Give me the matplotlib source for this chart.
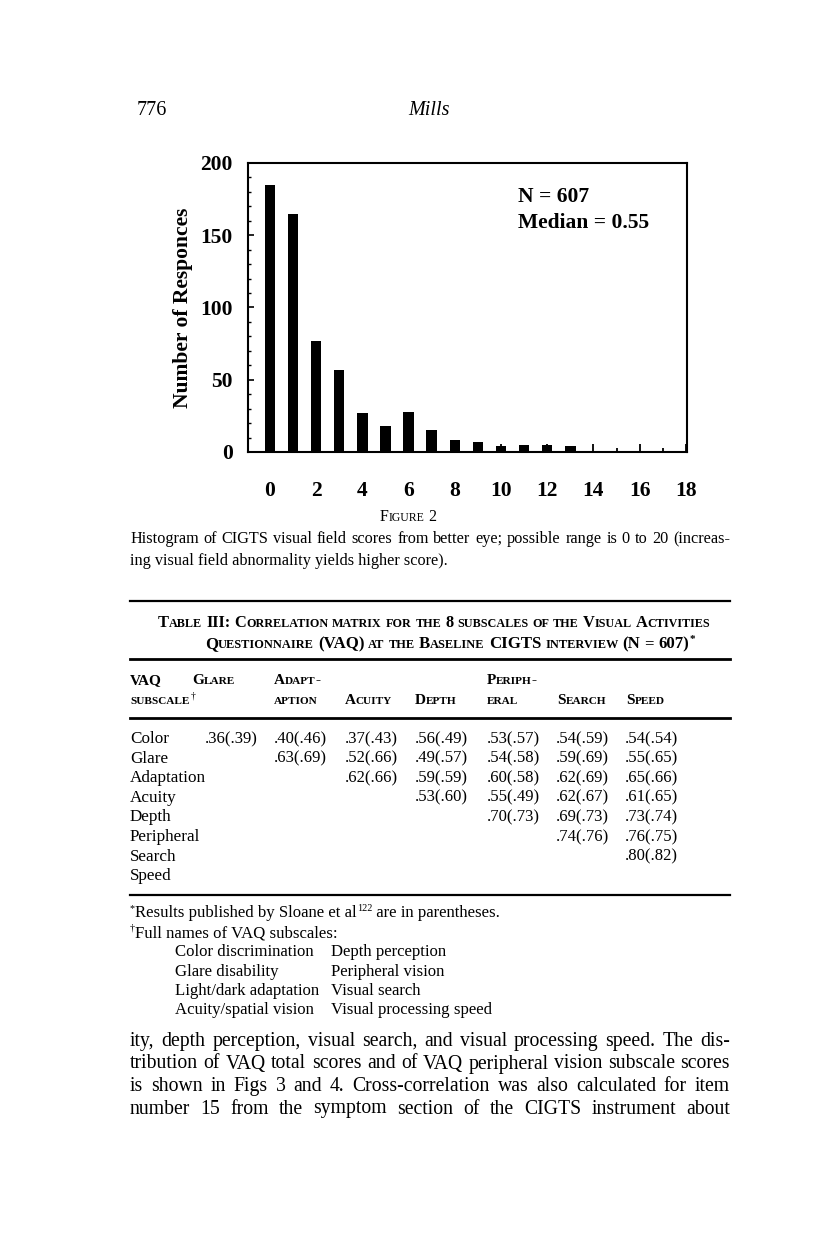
import matplotlib
matplotlib.use('Agg')
import matplotlib.pyplot as plt
from matplotlib.lines import Line2D
from matplotlib.ticker import MultipleLocator

plt.rcParams['font.family'] = ['Liberation Serif', 'DejaVu Serif']

W, H = 816, 1255

# Figure 2: CIGTS visual field score (better eye) vs number of responses
scores = list(range(18))
counts = [185, 165, 77, 57, 27, 18, 28, 15, 8, 7, 4, 5, 5, 4, 0, 0, 0, 0]
n_total = 607
median_score = 0.55

# Table III: correlation matrix of the 8 VAQ subscales
subscales = ['Color', 'Glare', 'Adaptation', 'Acuity', 'Depth', 'Peripheral', 'Search', 'Speed']
head_top = ['Glare', 'Adapt-', '', '', 'Periph-', '', '']
head_bottom = ['', 'aption', 'Acuity', 'Depth', 'eral', 'Search', 'Speed']
# upper triangle, row i against columns i+1 .. 7
mills_r = [
    [.36, .40, .37, .56, .53, .54, .54],
    [.63, .52, .49, .54, .59, .55],
    [.62, .59, .60, .62, .65],
    [.53, .55, .62, .61],
    [.70, .69, .73],
    [.74, .76],
    [.80],
]
sloane_r = [
    [.39, .46, .43, .49, .57, .59, .54],
    [.69, .66, .57, .58, .69, .65],
    [.66, .59, .58, .69, .66],
    [.60, .49, .67, .65],
    [.73, .73, .74],
    [.76, .75],
    [.82],
]
names_left = ['Color discrimination', 'Glare disability', 'Light/dark adaptation', 'Acuity/spatial vision']
names_right = ['Depth perception', 'Peripheral vision', 'Visual search', 'Visual processing speed']

caption = ['Histogram of CIGTS visual field scores from better eye; possible range is 0 to 20 (increas-',
           'ing visual field abnormality yields higher score).']
body = ['ity, depth perception, visual search, and visual processing speed. The dis-',
        'tribution of VAQ total scores and of VAQ peripheral vision subscale scores',
        'is shown in Figs 3 and 4. Cross-correlation was also calculated for item',
        'number 15 from the symptom section of the CIGTS instrument about']

fig = plt.figure(figsize=(W / 100, H / 100), dpi=100)
fig.patch.set_facecolor('white')
R = fig.canvas.get_renderer()


def fx(x):
    return x / W


def fy(y):
    return 1 - y / H


def txt(x, y, s, **kw):
    kw.setdefault('va', 'baseline')
    return fig.text(fx(x), fy(y), s, **kw)


def wid(t):
    return t.get_window_extent(R).width


def space_w(size, weight='normal'):
    a = fig.text(0, 0, 'a a', fontsize=size, fontweight=weight)
    b = fig.text(0, 0, 'aa', fontsize=size, fontweight=weight)
    w = wid(a) - wid(b)
    a.remove()
    b.remove()
    return w


def rule(y, x0=130, x1=730, lw=1.6):
    fig.add_artist(Line2D([fx(x0), fx(x1)], [fy(y), fy(y)], lw=lw, color='black'))


def smallcaps(x, y, s, size, weight='bold', ratio=0.74, ha='left', width=None):
    arts = []
    sp = space_w(size, weight)
    for word in s.split(' '):
        i = 0
        while i < len(word):
            low = word[i].islower()
            j = i
            while j < len(word) and word[j].islower() == low:
                j += 1
            t = fig.text(0, 0, word[i:j].upper(), fontsize=size * (ratio if low else 1),
                         fontweight=weight, va='baseline')
            arts.append([t, 0.0])
            i = j
        arts[-1][1] = sp
    arts[-1][1] = 0.0
    widths = [wid(a[0]) for a in arts]
    total = sum(widths) + sum(a[1] for a in arts)
    k = width / total if width else 1.0
    if k != 1.0:
        for a in arts:
            a[0].set_fontsize(a[0].get_fontsize() * k)
    total *= k
    if ha == 'center':
        x -= total / 2
    cur = x
    for (t, gap), w in zip(arts, widths):
        t.set_position((fx(cur), fy(y)))
        cur += (w + gap) * k
    return cur


def justify(x0, x1, y, line, size):
    words = line.split()
    ts = [fig.text(0, 0, w, fontsize=size, va='baseline') for w in words]
    ws = [wid(t) for t in ts]
    gap = (x1 - x0 - sum(ws)) / (len(words) - 1)
    cur = x0
    for t, w in zip(ts, ws):
        t.set_position((fx(cur), fy(y)))
        cur += w + gap


def runs(x, y, parts, size):
    # parts: (text, is_superscript)
    cur = x
    for s, sup in parts:
        if sup:
            t = txt(cur, y - 6, s, fontsize=size * 0.6)
        else:
            t = txt(cur, y, s, fontsize=size)
        cur += wid(t)
    return cur


# running head
txt(137, 115, '776', fontsize=14.5)
txt(429, 115, 'Mills', fontsize=14.5, style='italic', ha='center')

# histogram
ax = fig.add_axes([fx(248), fy(452), (687 - 248) / W, (452 - 163) / H])
ax.bar(scores, counts, width=0.45, color='black', zorder=1)
ax.set_xlim(-0.95, 18.05)
ax.set_ylim(0, 200)
ax.xaxis.set_major_locator(MultipleLocator(2))
ax.xaxis.set_minor_locator(MultipleLocator(1))
ax.yaxis.set_major_locator(MultipleLocator(50))
ax.yaxis.set_minor_locator(MultipleLocator(10))
ax.tick_params(axis='x', which='major', direction='in', length=5.5, width=1.3, pad=21, labelsize=15.5)
ax.tick_params(axis='x', which='minor', direction='in', length=3, width=1.3)
ax.tick_params(axis='y', which='major', direction='in', length=4, width=1.2, pad=11, labelsize=15.5)
ax.tick_params(axis='y', which='minor', direction='in', length=2.2, width=1.0)
for lbl in ax.get_xticklabels() + ax.get_yticklabels():
    lbl.set_fontweight('bold')
for sp in ax.spines.values():
    sp.set_linewidth(1.5)
ax.set_ylabel('Number of Responces', fontsize=15.5, fontweight='bold')
ax.yaxis.set_label_coords(-0.125, 0.5)
ax.text(0.615, 0.865, f'N = {n_total}', transform=ax.transAxes, fontsize=15.5,
        fontweight='bold', va='baseline')
ax.text(0.615, 0.775, f'Median = {median_score:.2f}', transform=ax.transAxes, fontsize=15.5,
        fontweight='bold', va='baseline')

# figure caption
smallcaps(408, 521, 'Figure 2', 11.5, weight='normal', ha='center')
justify(130, 730, 543, caption[0], 11.7)
txt(130, 565, caption[1], fontsize=11.7)

# table III
rule(601, lw=1.6)
smallcaps(158, 627, 'Table III: Correlation matrix for the 8 subscales of the Visual Activities',
          11, width=552)
end = smallcaps(205, 648, 'Questionnaire (VAQ) at the Baseline CIGTS interview (N = 607)', 11, width=484)
txt(end + 1, 642, '*', fontsize=8, fontweight='bold')
rule(659, lw=2.0)

head_x = [192, 274, 345, 415, 487, 557, 626]
col_x = [205, 274, 345, 415, 487, 556, 625]
smallcaps(130, 684, 'VAQ', 11)
end = smallcaps(130, 704, 'subscale', 11)
txt(end + 1, 698, '\u2020', fontsize=7)
for cx, top, bot in zip(head_x, head_top, head_bottom):
    if top:
        smallcaps(cx, 684, top, 11)
    if bot:
        smallcaps(cx, 704, bot, 11)
rule(718, lw=2.0)

row_y0, row_dy = 743, 19.6
for i, name in enumerate(subscales):
    y = row_y0 + i * row_dy
    txt(130, y, name, fontsize=12.3)
    if i < len(mills_r):
        for j, (m, s) in enumerate(zip(mills_r[i], sloane_r[i])):
            c = i + j
            txt(col_x[c], y, f'{m:.2f}'[1:] + '(' + f'{s:.2f}'[1:] + ')', fontsize=12)
rule(895, lw=1.6)

fn_size = 12.1
runs(130, 917, [('*', True), ('Results published by Sloane et al', False), ('122', True),
                (' are in parentheses.', False)], fn_size)
runs(130, 937, [('\u2020', True), ('Full names of VAQ subscales:', False)], fn_size)
for i, (a, b) in enumerate(zip(names_left, names_right)):
    y = 956 + i * 19.5
    txt(175, y, a, fontsize=fn_size)
    txt(331, y, b, fontsize=fn_size)

# body text
for i, line in enumerate(body):
    justify(130, 730, 1046 + i * 22.5, line, 14.2)

fig.savefig('out.png', dpi=100, facecolor='white')
